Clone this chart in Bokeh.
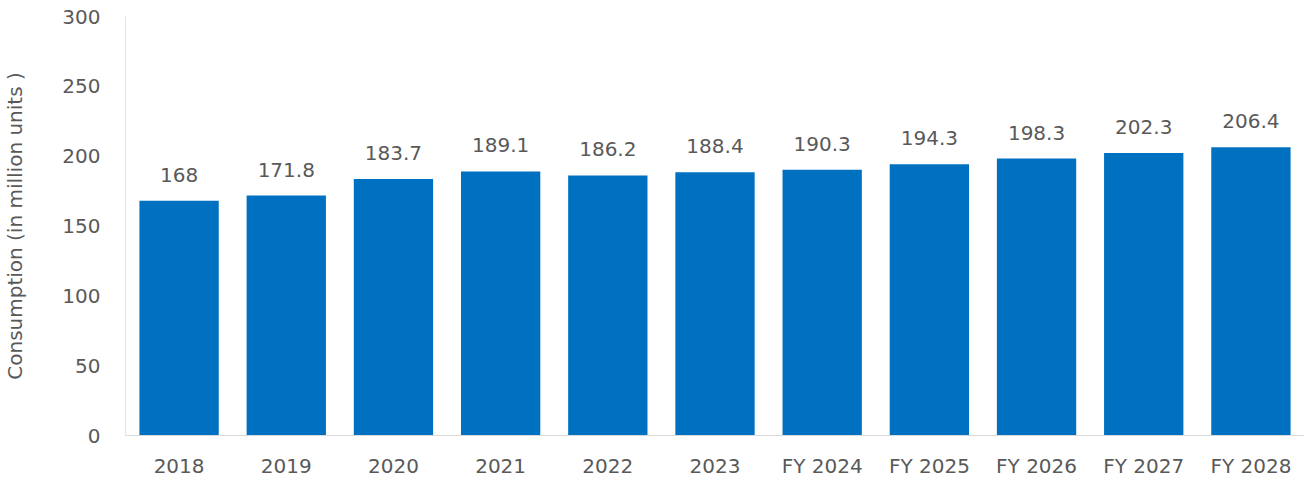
from bokeh.plotting import figure
from bokeh.models import ColumnDataSource, LabelSet, Range1d, FactorRange
from bokeh.core.properties import value
from bokeh.embed import file_html
from bokeh.resources import INLINE

categories = ["2018", "2019", "2020", "2021", "2022", "2023",
              "FY 2024", "FY 2025", "FY 2026", "FY 2027", "FY 2028"]
values = [168, 171.8, 183.7, 189.1, 186.2, 188.4, 190.3, 194.3, 198.3, 202.3, 206.4]
labels = ["168", "171.8", "183.7", "189.1", "186.2", "188.4",
          "190.3", "194.3", "198.3", "202.3", "206.4"]
y_ticks = [0, 50, 100, 150, 200, 250, 300]

FONT = "DejaVu Sans"
TXT = "#595959"

src = ColumnDataSource(dict(cat=categories, val=values, lab=labels))

p = figure(x_range=FactorRange(*categories), y_range=Range1d(0, 300),
           width=1304, height=480, output_backend="svg", toolbar_location=None,
           min_border_left=121, min_border_right=0, min_border_top=16, min_border_bottom=30)
p.outline_line_color = None
p.background_fill_color = "white"
p.border_fill_color = "white"

p.vbar(x="cat", top="val", width=0.74, source=src, color="#0070C0", line_color=None)

p.add_layout(LabelSet(x="cat", y="val", text="lab", source=src, y_offset=26,
                      text_align="center", text_baseline="middle",
                      text_font=value(FONT), text_font_size="20px", text_color=TXT))

p.xgrid.grid_line_color = None
p.ygrid.grid_line_color = None

p.yaxis.ticker = y_ticks
p.yaxis.axis_line_color = "#E3E3E3"
p.yaxis.major_tick_line_color = None
p.yaxis.minor_tick_line_color = None
p.yaxis.major_tick_out = 0
p.yaxis.major_label_standoff = 25
p.yaxis.major_label_text_font = FONT
p.yaxis.major_label_text_font_size = "20px"
p.yaxis.major_label_text_color = TXT
p.yaxis.axis_label = "Consumption (in million units )"
p.yaxis.axis_label_text_font = FONT
p.yaxis.axis_label_text_font_size = "20px"
p.yaxis.axis_label_text_font_style = "normal"
p.yaxis.axis_label_text_color = TXT
p.yaxis.axis_label_standoff = 32

p.xaxis.axis_line_color = "#D9D9D9"
p.xaxis.major_tick_line_color = None
p.xaxis.minor_tick_line_color = None
p.xaxis.major_tick_out = 0
p.xaxis.major_label_standoff = 18
p.xaxis.axis_label_standoff = 0
p.xaxis.major_label_text_font = FONT
p.xaxis.major_label_text_font_size = "20px"
p.xaxis.major_label_text_color = TXT

open("out.html", "w").write(file_html(p, INLINE))
